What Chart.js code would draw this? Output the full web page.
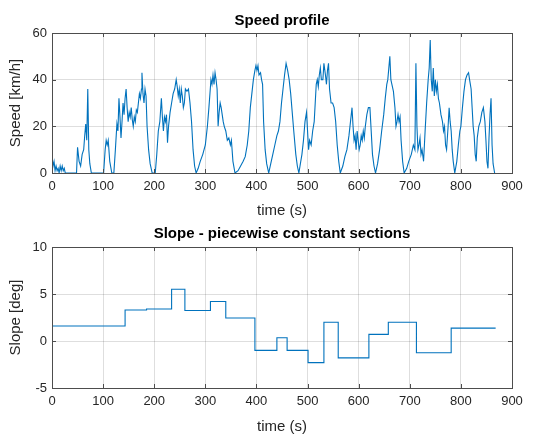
<!DOCTYPE html>
<html>
<head>
<meta charset="utf-8">
<script src="https://cdn.jsdelivr.net/npm/chart.js@4.4.0/dist/chart.umd.min.js"></script>
<style>
  html, body { margin: 0; padding: 0; background: #ffffff; }
  canvas { display: block; }
</style>
</head>
<body>
<canvas id="speed" width="547" height="220"></canvas>
<canvas id="slope" width="547" height="217"></canvas>
<script>
// ---------- data ----------
const speedTime = [0,2,4,6,8,10,12,14,16,18,20,22,24,26,48,50,53,56,59,62,64,66,68,70,72,74,77,101,104,106,108,110,113,117,121,124,127,129,131,133,135,137,139,141,143,145,147,149,151,153,155,157,159,161,163,165,167,169,171,173,175,176,178,180,182,184,186,189,192,196,202,205,208,211,214,216,218,220,222,224,226,228,231,234,237,240,243,245,247,249,251,253,255,257,259,261,264,267,270,273,276,279,282,286,290,295,300,304,307,309,311,313,315,317,319,321,323,325,327,329,331,333,335,337,340,343,346,349,351,354,358,364,369,374,378,382,385,388,391,394,397,399,401,403,405,408,410,412,414,417,420,424,428,432,436,440,443,446,449,452,455,458,461,464,467,470,473,477,480,483,486,489,492,495,498,500,502,504,507,510,513,515,517,519,521,523,525,527,530,532,535,537,539,541,543,546,549,552,555,558,561,564,569,573,577,581,584,587,589,591,593,595,597,599,601,603,605,607,609,611,613,616,619,622,624,627,630,633,637,641,645,649,652,655,657,659,661,663,665,668,671,673,675,677,679,681,683,686,689,694,698,703,707,710,712,714,716,718,720,722,724,727,730,733,736,738,740,742,744,746,748,750,752,754,756,758,761,764,766,768,770,772,775,777,779,781,783,785,788,792,795,798,800,803,806,809,812,815,817,820,822,824,826,828,830,832,835,838,841,844,847,849,851,853,855,857,859,861,863,866];
const speedKmh = [7,3,5,1,3,1,2,0,3,1,3,1,2,0,0,11,5,3,8,10,16,21,14,36,10,4,0,0,10,14,12,14,5,0,0,10,21,18,32,24,15,22,30,25,32,36,28,22,26,24,28,23,20,24,22,27,26,30,34,32,36,43,34,30,36,33,20,10,4,0,0,8,18,22,32,24,18,24,22,25,13,20,26,30,34,36,40,37,33,36,30,36,33,28,30,36,35,36,30,22,10,3,0,2,5,8,12,20,28,34,40,38,42,38,43,40,36,20,26,30,28,25,22,20,18,14,15,12,14,5,0,1,3,5,7,12,18,28,34,40,44,46,44,46,42,43,40,38,22,10,4,0,4,8,12,16,18,22,30,36,42,47,44,40,34,26,18,8,3,0,4,8,14,22,26,18,10,14,12,18,22,30,38,40,37,42,45,40,40,47,42,38,44,47,36,30,30,28,22,12,5,0,3,7,10,16,22,28,20,14,16,10,18,14,10,12,16,14,18,15,20,25,28,28,20,8,3,0,4,10,18,25,32,38,40,45,50,40,38,35,28,20,22,25,22,24,14,5,0,2,5,8,12,10,47,20,10,12,15,8,10,5,18,30,40,45,57,40,35,45,33,40,35,38,32,30,25,22,18,20,12,10,20,28,22,18,10,5,0,5,12,18,20,28,35,40,42,43,40,36,28,20,16,8,5,15,20,22,26,28,22,14,5,2,15,25,32,12,4,0];

const slopeTime = [0,143,185,234,260,310,340,397,440,460,501,532,560,620,658,713,781,868];
const slopeDeg  = [1.6,3.3,3.4,5.5,3.25,4.2,2.45,-1.0,0.35,-1.0,-2.3,2.0,-1.8,0.7,2.0,-1.25,1.37,1.37];

const xTicks = [0,100,200,300,400,500,600,700,800,900];
const speedTicks = [0,20,40,60];
const slopeTicks = [-5,0,5,10];

// ---------- styling helpers ----------
const FONT = 'Arial, "Liberation Sans", Helvetica, sans-serif';
const TXT = '#262626';
const BLUE = '#0072BD';

const boxPlugin = {
  id: 'matlabBox',
  afterDraw(chart) {
    const { ctx, chartArea: a, scales } = chart;
    const x = scales.x, y = scales.y;
    ctx.save();
    ctx.strokeStyle = '#4d4d4d';
    ctx.lineWidth = 1;
    ctx.strokeRect(Math.round(a.left) + 0.5, Math.round(a.top) + 0.5,
                   Math.round(a.right - a.left), Math.round(a.bottom - a.top));
    const L = 4;
    ctx.beginPath();
    x.ticks.forEach(t => {
      const px = Math.round(x.getPixelForValue(t.value)) + 0.5;
      ctx.moveTo(px, a.bottom); ctx.lineTo(px, a.bottom - L);
      ctx.moveTo(px, a.top); ctx.lineTo(px, a.top + L);
    });
    y.ticks.forEach(t => {
      const py = Math.round(y.getPixelForValue(t.value)) + 0.5;
      ctx.moveTo(a.left, py); ctx.lineTo(a.left + L, py);
      ctx.moveTo(a.right, py); ctx.lineTo(a.right - L, py);
    });
    ctx.stroke();
    ctx.restore();
  }
};

function makeChart(id, cfg) {
  return new Chart(document.getElementById(id), {
    type: 'line',
    data: {
      datasets: [{
        data: cfg.xs.map((t, i) => ({ x: t, y: cfg.ys[i] })),
        borderColor: BLUE,
        borderWidth: 1.1,
        pointRadius: 0,
        tension: 0,
        stepped: cfg.stepped || false,
        fill: false
      }]
    },
    options: {
      responsive: false,
      animation: false,
      events: [],
      layout: { padding: { left: 0, right: 35, top: 0, bottom: 0 } },
      plugins: {
        legend: { display: false },
        tooltip: { enabled: false },
        title: {
          display: true,
          fullSize: false,
          text: cfg.title,
          color: '#000000',
          font: { family: FONT, size: 15, weight: 'bold', lineHeight: 1.2 },
          padding: cfg.titlePad
        }
      },
      scales: {
        x: {
          type: 'linear',
          min: 0, max: 900,
          afterBuildTicks: s => { s.ticks = xTicks.map(v => ({ value: v })); },
          afterFit: s => { s.height = cfg.xHeight; },
          grid: { color: 'rgba(0,0,0,0.13)', drawTicks: false },
          border: { display: false },
          ticks: { color: TXT, font: { family: FONT, size: 13 }, padding: 6, maxRotation: 0 },
          title: {
            display: true, text: 'time (s)', color: TXT,
            font: { family: FONT, size: 15, lineHeight: 1.2 },
            padding: { top: 0, bottom: cfg.xTitleBottom }
          }
        },
        y: {
          type: 'linear',
          min: cfg.yMin, max: cfg.yMax,
          afterBuildTicks: s => { s.ticks = cfg.yTicks.map(v => ({ value: v })); },
          afterFit: s => { s.width = 52; },
          grid: { color: 'rgba(0,0,0,0.13)', drawTicks: false },
          border: { display: false },
          ticks: { color: TXT, font: { family: FONT, size: 13 }, padding: 5 },
          title: {
            display: true, text: cfg.yLabel, color: TXT,
            font: { family: FONT, size: 15, lineHeight: 1.2 },
            padding: { top: 7, bottom: 0 }
          }
        }
      }
    },
    plugins: [boxPlugin]
  });
}

makeChart('speed', {
  xs: speedTime, ys: speedKmh,
  title: 'Speed profile',
  titlePad: { top: 12, bottom: 3 },
  xHeight: 47, xTitleBottom: 0,
  yMin: 0, yMax: 60, yTicks: speedTicks,
  yLabel: 'Speed [km/h]'
});

makeChart('slope', {
  xs: slopeTime, ys: slopeDeg,
  stepped: 'before',
  title: 'Slope - piecewise constant sections',
  titlePad: { top: 5, bottom: 4 },
  xHeight: 49, xTitleBottom: 1,
  yMin: -5, yMax: 10, yTicks: slopeTicks,
  yLabel: 'Slope [deg]'
});
</script>
</body>
</html>
